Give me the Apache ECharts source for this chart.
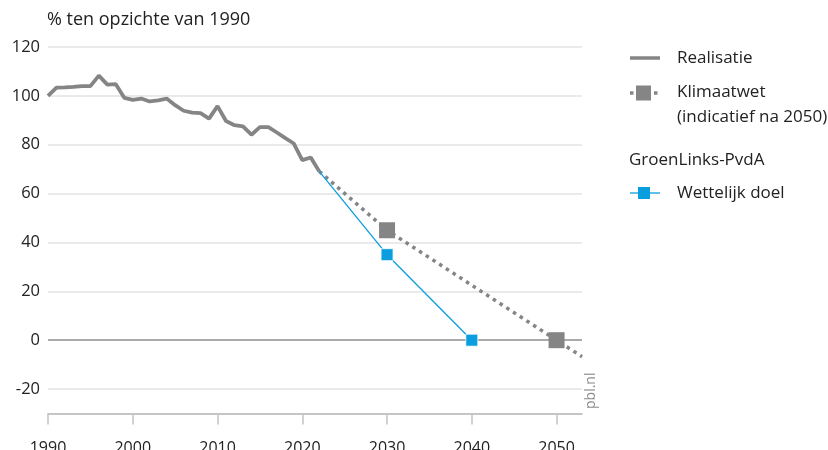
<!DOCTYPE html>
<html>
<head>
<meta charset="utf-8">
<script src="https://cdn.jsdelivr.net/npm/echarts@6/dist/echarts.min.js"></script>
<style>
html,body{margin:0;padding:0;background:#fff;}
#chart{width:828px;height:450px;}
</style>
</head>
<body>
<div id="chart"></div>
<script>
// Data
var realisatieYears = [1990,1991,1992,1993,1994,1995,1996,1997,1998,1999,2000,2001,2002,2003,2004,2005,2006,2007,2008,2009,2010,2011,2012,2013,2014,2015,2016,2017,2018,2019,2020,2021,2022];
var realisatieValues = [100,103.4,103.5,103.7,104,104,108.3,104.6,104.8,99.2,98.4,98.9,97.7,98.2,98.9,96.2,93.9,93.1,92.9,90.7,95.8,89.7,88.0,87.5,84.1,87.2,87.2,85.0,82.7,80.5,73.7,74.8,69.1];
var klimaatwetYears = [2022,2030,2050,2053];
var klimaatwetValues = [69.1,45,0,-6.75];
var klimaatwetMarkerYears = [2030,2050];
var doelYears = [2022,2030,2040];
var doelValues = [69.1,35,0];
var doelMarkerYears = [2030,2040];
var xTicks = [1990,2000,2010,2020,2030,2040,2050];
var yTicks = [-20,0,20,40,60,80,100,120];

var titleText = '% ten opzichte van 1990';
var legendLabels = ['Realisatie','Klimaatwet','(indicatief na 2050)','GroenLinks-PvdA','Wettelijk doel'];

var GRAY = '#858585';
var BLUE = '#0a9ede';
var FONT = 'Open Sans';

function pairs(xs, ys, markers) {
  return xs.map(function(x, i){
    var d = {value:[x, ys[i]]};
    if (markers) d.symbol = markers.indexOf(x) >= 0 ? 'rect' : 'none';
    return d;
  });
}

var splitColors = [];
for (var v = -30; v <= 120; v += 10) {
  splitColors.push((v % 20 === 0 && v !== 0) ? '#e3e3e3' : 'rgba(0,0,0,0)');
}

var chart = echarts.init(document.getElementById('chart'));
chart.setOption({
  animation: false,
  backgroundColor: '#fff',
  textStyle: {fontFamily: FONT},
  grid: {left: 48, right: 246, top: 47, bottom: 36.5, containLabel: false, outerBoundsMode: 'none'},
  xAxis: {
    type: 'value', min: 1990, max: 2053, interval: 10,
    axisLine: {show: true, onZero: false, lineStyle: {color: '#b3b3b3', width: 1.5}},
    axisTick: {show: true, inside: false, length: 11, customValues: xTicks, lineStyle: {color: '#c4c4c4', width: 1.5}},
    axisLabel: {customValues: xTicks, color: '#222', fontSize: 16, fontFamily: FONT, margin: 27,
      formatter: function(val){ return String(val); }},
    splitLine: {show: false}
  },
  yAxis: {
    type: 'value', min: -30, max: 120, interval: 10,
    axisLine: {show: false}, axisTick: {show: false},
    axisLabel: {
      color: '#222', fontSize: 16.5, fontFamily: FONT, margin: 8,
      formatter: function(val){ return (yTicks.indexOf(val) >= 0) ? String(val) : ''; }
    },
    splitLine: {show: true, lineStyle: {color: splitColors, width: 1.5}}
  },
  series: [
    {
      name: 'Realisatie', type: 'line', symbol: 'none',
      data: pairs(realisatieYears, realisatieValues),
      lineStyle: {color: GRAY, width: 3.8}, z: 3,
      markLine: {
        silent: true, symbol: 'none', label: {show: false},
        lineStyle: {color: '#a9a9a9', width: 2, type: 'solid'},
        data: [{yAxis: 0}], z: 1
      }
    },
    {
      name: 'Klimaatwet', type: 'line', symbolSize: 16,
      data: pairs(klimaatwetYears, klimaatwetValues, klimaatwetMarkerYears),
      lineStyle: {color: GRAY, width: 3.5, type: [3.5, 4.5], cap: 'butt'},
      itemStyle: {color: GRAY, borderWidth: 0}, z: 4
    },
    {
      name: 'Wettelijk doel', type: 'line', symbolSize: 12,
      data: pairs(doelYears, doelValues, doelMarkerYears),
      lineStyle: {color: BLUE, width: 1.3},
      itemStyle: {color: BLUE, borderColor: '#fff', borderWidth: 0.8}, z: 5
    }
  ],
  graphic: [
    {type:'text', x: 47, y: 20, style:{text: titleText, fill:'#222', font:'18px "Open Sans"', verticalAlign:'middle'}},
    {type:'text', x: 591, y: 409, rotation: Math.PI/2, style:{text:'pbl.nl', fill:'#8c8c8c', font:'14px "Open Sans"', verticalAlign:'middle', align:'left'}},
    // legend
    {type:'line', shape:{x1:630,y1:58,x2:660,y2:58}, style:{stroke:GRAY, lineWidth:3.5}},
    {type:'text', x: 677, y: 58, style:{text: legendLabels[0], fill:'#222', font:'17px "Open Sans"', verticalAlign:'middle'}},
    {type:'line', shape:{x1:630,y1:93,x2:660,y2:93}, style:{stroke:GRAY, lineWidth:3.5, lineDash:[3.5,4.5]}},
    {type:'rect', shape:{x:636,y:85.5,width:15,height:15}, style:{fill:GRAY}},
    {type:'text', x: 677, y: 92, style:{text: legendLabels[1], fill:'#222', font:'17px "Open Sans"', verticalAlign:'middle'}},
    {type:'text', x: 677, y: 117, style:{text: legendLabels[2], fill:'#222', font:'17px "Open Sans"', verticalAlign:'middle'}},
    {type:'text', x: 629, y: 160, style:{text: legendLabels[3], fill:'#222', font:'17px "Open Sans"', verticalAlign:'middle'}},
    {type:'line', shape:{x1:630,y1:193,x2:660,y2:193}, style:{stroke:BLUE, lineWidth:1.3}},
    {type:'rect', shape:{x:638,y:187,width:12,height:12}, style:{fill:BLUE}},
    {type:'text', x: 677, y: 193, style:{text: legendLabels[4], fill:'#222', font:'17px "Open Sans"', verticalAlign:'middle'}}
  ]
});
</script>
</body>
</html>
